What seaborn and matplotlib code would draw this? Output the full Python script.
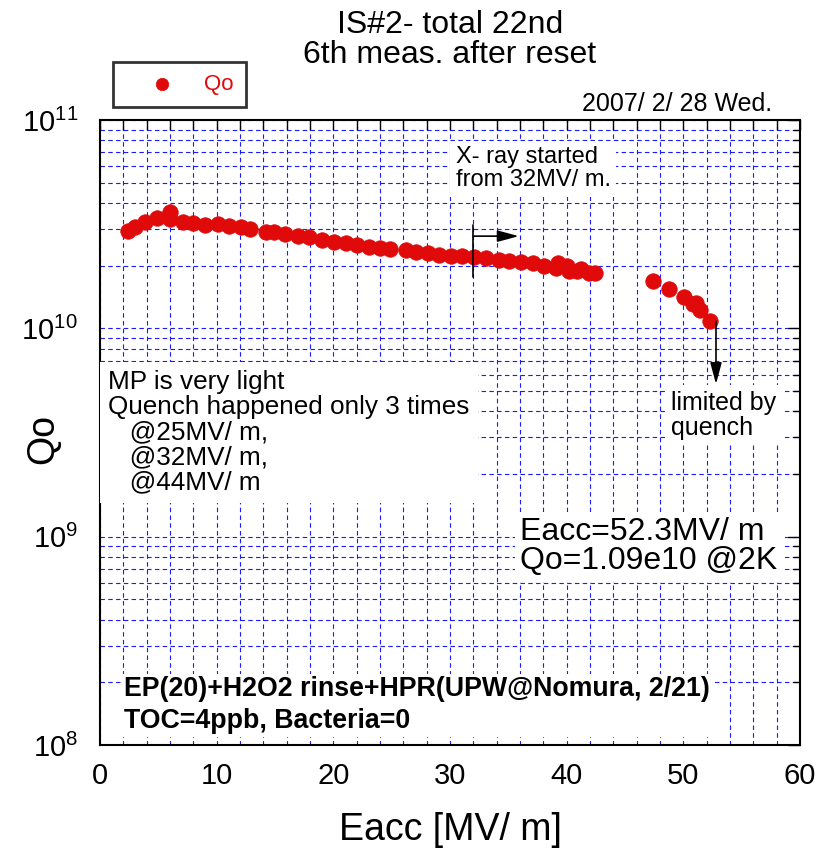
import matplotlib
matplotlib.use("Agg")
import matplotlib.pyplot as plt
import matplotlib.ticker as mticker
import seaborn as sns
import pandas as pd

# ---- data ----
eacc = [2.4, 3.0, 3.9, 4.9, 6.0, 6.0, 7.1, 8.0, 9.0, 10.1, 11.1, 12.1, 12.9,
        14.2, 14.9, 15.9, 17.0, 17.9, 19.0, 20.1, 21.1, 22.0, 23.1, 24.0,
        24.9, 26.2, 27.1, 28.1, 29.1, 30.1, 31.0, 32.1, 33.1, 34.2, 35.1,
        36.1, 37.1, 38.1, 39.3, 39.1, 40.0, 40.2, 41.2, 40.9, 41.9, 42.4,
        47.4, 48.8, 50.1, 50.8, 51.1, 51.4, 52.3]
qo = [2.94e10, 3.08e10, 3.24e10, 3.39e10, 3.62e10, 3.36e10, 3.24e10, 3.19e10,
      3.14e10, 3.16e10, 3.10e10, 3.08e10, 3.01e10, 2.90e10, 2.90e10, 2.84e10,
      2.77e10, 2.74e10, 2.65e10, 2.59e10, 2.56e10, 2.52e10, 2.45e10, 2.42e10,
      2.41e10, 2.38e10, 2.32e10, 2.29e10, 2.25e10, 2.22e10, 2.22e10, 2.19e10,
      2.18e10, 2.13e10, 2.10e10, 2.08e10, 2.05e10, 2.00e10, 2.07e10, 1.95e10,
      2.00e10, 1.89e10, 1.93e10, 1.88e10, 1.85e10, 1.84e10,
      1.68e10, 1.55e10, 1.42e10, 1.31e10, 1.32e10, 1.22e10, 1.09e10]
series_label = "Qo"
x_ticks = [0, 10, 20, 30, 40, 50, 60]

title_text = "IS#2- total 22nd\n6th meas. after reset"
date_text = "2007/ 2/ 28 Wed."
xlabel_text = "Eacc [MV/ m]"
ylabel_text = "Qo"
xray_text = "X- ray started\nfrom 32MV/ m."
mp_text = "MP is very light\nQuench happened only 3 times\n   @25MV/ m,\n   @32MV/ m,\n   @44MV/ m"
result_text = "Eacc=52.3MV/ m\nQo=1.09e10 @2K"
limit_text = "limited by\nquench"
process_text = "EP(20)+H2O2 rinse+HPR(UPW@Nomura, 2/21)\nTOC=4ppb, Bacteria=0"

df = pd.DataFrame({"Eacc": eacc, "Qo": qo})

sns.set_theme(style="white")
REG = ["Liberation Sans", "DejaVu Sans"]
plt.rcParams["font.family"] = REG
plt.rcParams["text.color"] = "black"
plt.rcParams["axes.labelcolor"] = "black"
plt.rcParams["xtick.color"] = "black"
plt.rcParams["ytick.color"] = "black"
plt.rcParams["mathtext.fontset"] = "custom"
plt.rcParams["mathtext.rm"] = "Liberation Sans"

RED = "#e00a0a"

fig = plt.figure(figsize=(8.2, 8.56), dpi=100)
ax = fig.add_axes([100 / 820, 1 - 745 / 856, 700 / 820, 625 / 856])

sns.scatterplot(data=df, x="Eacc", y="Qo", ax=ax, color=RED, edgecolor=RED,
                s=125, linewidth=0.5, label=series_label, zorder=5)

ax.set_yscale("log")
ax.set_xlim(0, 60)
ax.set_ylim(1e8, 1e11)
ax.set_xticks(x_ticks)
ax.xaxis.set_minor_locator(mticker.MultipleLocator(2))
ax.yaxis.set_major_locator(mticker.LogLocator(base=10, numticks=10))
ax.yaxis.set_minor_locator(mticker.LogLocator(base=10, subs=range(2, 10), numticks=20))
ax.yaxis.set_minor_formatter(mticker.NullFormatter())

ax.grid(which="both", color="#1a1aff", linestyle=(0, (4, 3)), linewidth=0.8)
ax.set_axisbelow(True)

for sp in ax.spines.values():
    sp.set_linewidth(1.5)
    sp.set_color("black")

ax.tick_params(axis="both", which="both", direction="in", top=True, right=True,
               colors="black", width=1.0)
ax.tick_params(axis="x", which="major", length=7, labelsize=21, pad=12)
ax.tick_params(axis="x", which="minor", length=7)
ax.tick_params(axis="y", which="major", length=9, labelsize=21, pad=16)
ax.tick_params(axis="y", which="minor", length=5)

ax.set_xlabel(xlabel_text, fontsize=27)
ax.xaxis.set_label_coords(0.5, -0.108)
ax.set_ylabel(ylabel_text, fontsize=27)
ax.yaxis.set_label_coords(-0.055, 0.49)

# legend above the axes
leg = ax.legend(loc="upper left", bbox_to_anchor=(113 / 820, 1 - 62 / 856),
                bbox_transform=fig.transFigure, borderaxespad=0,
                labelcolor=RED, fancybox=False, frameon=True,
                edgecolor="black", handlelength=3.3, handletextpad=0.25,
                borderpad=0.55, markerscale=0.8, prop={"family": REG, "size": 16})
leg.get_frame().set_linewidth(2)

# titles
fig.text(450 / 820, 1 - 10 / 856, title_text, ha="center", va="top",
         fontsize=23, linespacing=1.0)
fig.text(772 / 820, 1 - 111 / 856, date_text, ha="right", va="baseline",
         fontsize=18)

box = dict(facecolor="white", edgecolor="none", pad=4)

ax.text(0.508, 0.958, xray_text, transform=ax.transAxes, ha="left", va="top",
        fontsize=17, linespacing=1.05, bbox=box, zorder=3)
ax.text(0.012, 0.600, mp_text, transform=ax.transAxes, ha="left", va="top",
        fontsize=18.8, linespacing=1.06,
        bbox=dict(facecolor="white", edgecolor="none", pad=6), zorder=3)
ax.text(0.600, 0.364, result_text, transform=ax.transAxes, ha="left", va="top",
        fontsize=23, linespacing=0.95, bbox=box, zorder=3)
ax.text(0.816, 0.567, limit_text, transform=ax.transAxes, ha="left", va="top",
        fontsize=18, linespacing=1.05, bbox=box, zorder=3)
ax.text(0.034, 0.110, process_text, transform=ax.transAxes, ha="left", va="top",
        fontsize=19.3, fontweight="bold", linespacing=1.28,
        bbox=dict(facecolor="white", edgecolor="none", pad=2), zorder=3)

# annotation arrows
ax.plot([32.0, 32.0], [1.76e10, 3.13e10], color="black", lw=1.2, zorder=6)
ax.annotate("", xy=(35.9, 2.77e10), xytext=(32.0, 2.77e10),
            arrowprops=dict(arrowstyle="-|>,head_length=1.3,head_width=0.35",
                            mutation_scale=10, color="black", lw=1.2,
                            shrinkA=0, shrinkB=0), zorder=6)
ax.annotate("", xy=(52.8, 5.4e9), xytext=(52.8, 1.08e10),
            arrowprops=dict(arrowstyle="-|>,head_length=1.3,head_width=0.35",
                            mutation_scale=10, color="black", lw=1.2,
                            shrinkA=0, shrinkB=0), zorder=6)

fig.savefig("out.png", dpi=100)
